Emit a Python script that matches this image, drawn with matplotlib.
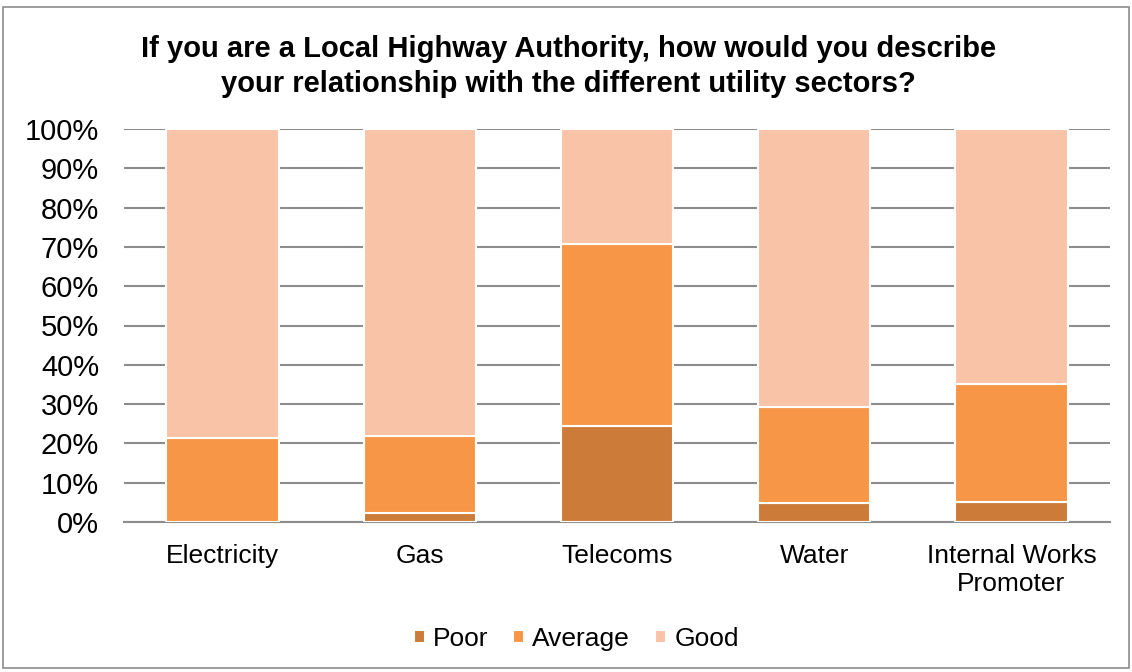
import matplotlib.pyplot as plt
import numpy as np
from matplotlib.patches import Rectangle
from matplotlib.ticker import PercentFormatter

plt.rcParams['font.family'] = ['Liberation Sans', 'DejaVu Sans']

categories = ["Electricity", "Gas", "Telecoms", "Water", "Internal Works\nPromoter"]
poor = [0.0, 2.4, 24.4, 4.9, 5.0]
average = [21.4, 19.6, 46.3, 24.4, 30.0]
good = [100 - p - a for p, a in zip(poor, average)]

series = ["Poor", "Average", "Good"]
colors = ["#CC7B38", "#F79646", "#F9C3A8"]

fig = plt.figure(figsize=(11.32, 6.72), dpi=100)
ax = fig.add_axes([124 / 1132, 1 - 522 / 672, 986 / 1132, 393 / 672])

x = np.arange(len(categories))
bottom = np.zeros(len(categories))
for name, vals, col in zip(series, [poor, average, good], colors):
    ax.bar(x, vals, 0.57, bottom=bottom, color=col, edgecolor="white",
           linewidth=1.5, label=name, zorder=3)
    bottom += np.array(vals)

ax.set_xlim(-0.5, len(categories) - 0.5)
ax.set_ylim(0, 100)
ax.set_yticks(np.arange(0, 101, 10))
ax.yaxis.set_major_formatter(PercentFormatter(decimals=0))
ax.set_xticks(x)
ax.set_xticklabels(categories, fontsize=19, linespacing=1.2)
ax.tick_params(axis="y", labelsize=21, length=0, pad=18)
ax.tick_params(axis="x", length=0, pad=16)
ax.grid(axis="y", color="#8C8C8C", linewidth=1.5, zorder=0)
for s in ["top", "right", "left"]:
    ax.spines[s].set_visible(False)
ax.spines["bottom"].set_color("#8C8C8C")
ax.spines["bottom"].set_linewidth(1.5)

fig.suptitle("If you are a Local Highway Authority, how would you describe\n"
             "your relationship with the different utility sectors?",
             fontsize=21, fontweight="bold", y=0.948, x=0.502, linespacing=1.3)

fig.legend(loc="center", bbox_to_anchor=(0.509, 1 - 639 / 672), ncol=3, frameon=False,
           fontsize=19, handlelength=0.42, handleheight=0.42, handletextpad=0.3,
           columnspacing=0.95)

fig.patches.append(Rectangle((3 / 1132, 4 / 672), 1126 / 1132, 661 / 672,
                             transform=fig.transFigure, fill=False,
                             edgecolor="#8C8C8C", linewidth=1.2))

fig.savefig("out.png", dpi=100)
